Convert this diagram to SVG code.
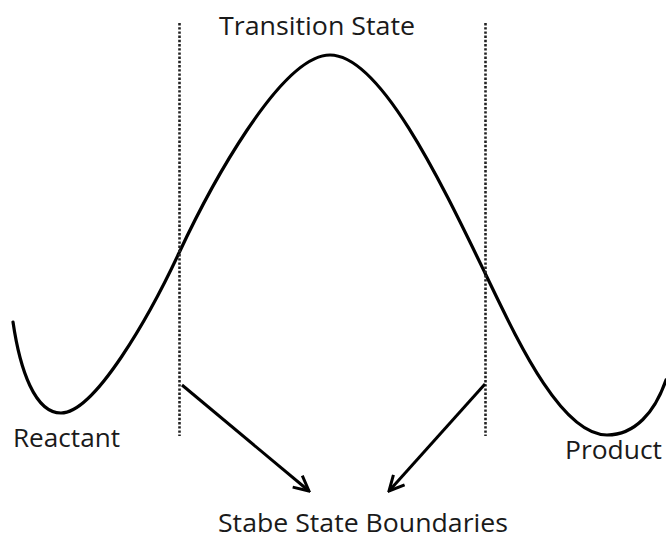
<svg xmlns="http://www.w3.org/2000/svg" width="666" height="538" viewBox="0 0 666 538">
  <style>
    .lbl { font-family: "Open Sans", "Liberation Sans", sans-serif; font-size: 25px; fill: #1a1a1a; }
    .curve { fill: none; stroke: #000; stroke-width: 3.2; stroke-linecap: round; }
    .bound { fill: none; stroke: #222; stroke-width: 2.6; stroke-dasharray: 2.4 1.8; }
    .arrow { fill: none; stroke: #000; stroke-width: 3; marker-end: url(#head); }
  </style>
  <defs>
    <marker id="head" viewBox="0 0 12 12" refX="11" refY="6" markerWidth="6" markerHeight="6" markerUnits="strokeWidth" orient="auto">
      <path d="M1,1 L11,6 L1,11" fill="none" stroke="#000" stroke-width="2"/>
    </marker>
  </defs>
  <rect width="666" height="538" fill="#fff"/>
  <g id="energy-curve">
    <path class="curve" d="M13,322 C20,370 35,413 61,413 C95,413 150,315 179,253 C208,191 280,55 330,55 C380,55 440,180 485,273 C515,335 560,435 607,435 C635,435 655,412 666,380"/>
  </g>
  <g id="boundary-left">
    <line class="bound" x1="179.5" y1="23" x2="179.5" y2="436"/>
  </g>
  <g id="boundary-right">
    <line class="bound" x1="485.5" y1="23" x2="485.5" y2="436"/>
  </g>
  <g id="connectors">
    <line class="arrow" x1="182" y1="385" x2="309" y2="491"/>
    <line class="arrow" x1="485" y1="384" x2="389" y2="491"/>
  </g>
  <g id="transition-state">
    <text class="lbl" x="219" y="35" textLength="196" lengthAdjust="spacingAndGlyphs">Transition State</text>
  </g>
  <g id="reactant">
    <text class="lbl" x="13" y="447" textLength="107" lengthAdjust="spacingAndGlyphs">Reactant</text>
  </g>
  <g id="product">
    <text class="lbl" x="565" y="459" textLength="97" lengthAdjust="spacingAndGlyphs">Product</text>
  </g>
  <g id="stable-boundaries">
    <text class="lbl" x="218" y="532" textLength="290" lengthAdjust="spacingAndGlyphs">Stabe State Boundaries</text>
  </g>
</svg>
